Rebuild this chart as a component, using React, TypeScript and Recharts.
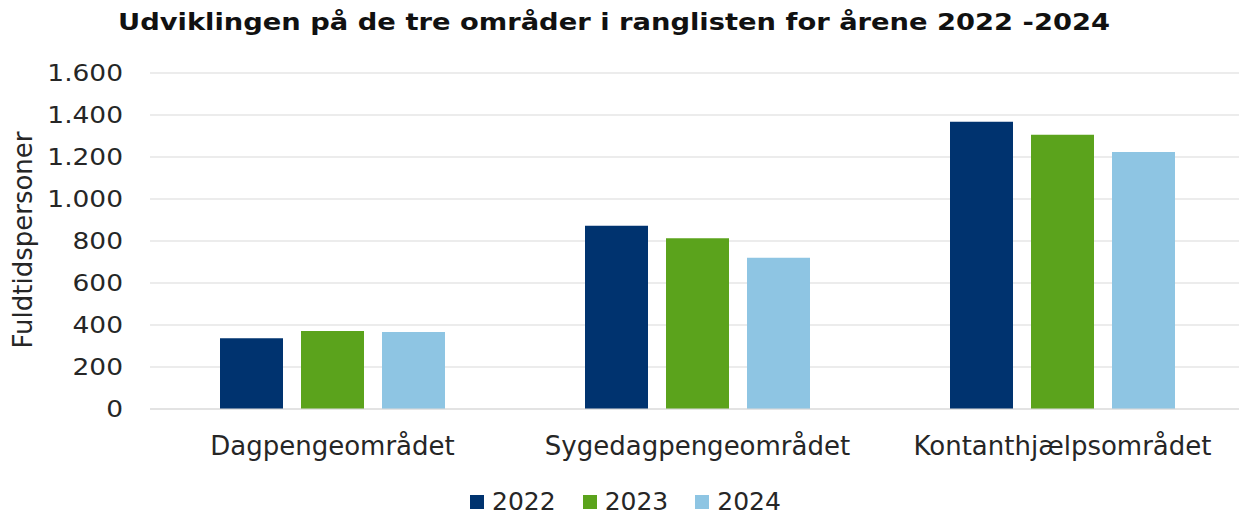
import React from 'react';
import { BarChart, Bar, XAxis, YAxis, CartesianGrid, Legend } from 'recharts';

const categories = ['Dagpengeområdet', 'Sygedagpengeområdet', 'Kontanthjælpsområdet'];
const years = ['2022', '2023', '2024'];
const values2022 = [337, 873, 1368];
const values2023 = [371, 813, 1306];
const values2024 = [367, 720, 1224];
const yTicks = [0, 200, 400, 600, 800, 1000, 1200, 1400, 1600];
const colors = ['#00336f', '#5ba31c', '#8ec5e3'];

const title = 'Udviklingen på de tre områder i ranglisten for årene 2022 -2024';
const yLabel = 'Fuldtidspersoner';

const seriesValues = [values2022, values2023, values2024];
const data = categories.map((name, i) => {
  const row: Record<string, string | number> = { name };
  years.forEach((y, j) => {
    row[y] = seriesValues[j][i];
  });
  return row;
});

const FONT = '"DejaVu Sans", Verdana, sans-serif';
const TEXT = '#262626';

const fmt = (v: number) => v.toString().replace(/\B(?=(\d{3})+(?!\d))/g, '.');

const YTick = (props: any) => {
  const { y, payload } = props;
  return (
    <text
      transform={`translate(123,${y}) scale(1.15,1)`}
      textAnchor="end"
      dy="0.36em"
      fontSize={23}
      fontFamily={FONT}
      fill={TEXT}
    >
      {fmt(payload.value)}
    </text>
  );
};

const XTick = (props: any) => {
  const { x, payload } = props;
  return (
    <text x={x} y={455} textAnchor="middle" fontSize={26} fontFamily={FONT} fill={TEXT}>
      {payload.value}
    </text>
  );
};

const LegendContent = (props: any) => {
  const { payload } = props;
  return (
    <div style={{ display: 'flex', alignItems: 'center', height: 25 }}>
      {(payload || []).map((p: any) => (
        <div key={p.value} style={{ display: 'flex', alignItems: 'center', marginRight: 27 }}>
          <div style={{ width: 14, height: 14, background: p.color, marginRight: 8 }} />
          <span style={{ fontFamily: FONT, fontSize: 25, lineHeight: '25px', color: TEXT }}>{p.value}</span>
        </div>
      ))}
    </div>
  );
};

export default function App() {
  return (
    <div
      style={{
        position: 'absolute',
        top: 0,
        left: 0,
        width: 1239,
        height: 517,
        overflow: 'hidden',
        background: '#ffffff',
      }}
    >
      <BarChart
        width={1245}
        height={517}
        data={data}
        margin={{ top: 73, right: 0, bottom: 78, left: 0 }}
        barSize={63}
        barGap={18}
      >
        <CartesianGrid vertical={false} stroke="#d9d9d9" strokeWidth={1.2} />
        <XAxis
          dataKey="name"
          height={30}
          tickLine={false}
          axisLine={{ stroke: '#d9d9d9', strokeWidth: 1.2 }}
          tick={XTick}
          interval={0}
        />
        <YAxis
          width={150}
          domain={[0, 1600]}
          ticks={yTicks}
          interval={0}
          axisLine={false}
          tickLine={false}
          tick={YTick}
        />
        <Legend
          layout="horizontal"
          verticalAlign="middle"
          align="center"
          content={LegendContent}
          wrapperStyle={{ top: 489, left: 470, width: 400, height: 25 }}
        />
        {years.map((y, i) => (
          <Bar key={y} dataKey={y} name={y} fill={colors[i]} isAnimationActive={false} />
        ))}
      </BarChart>
      <svg
        width={1239}
        height={517}
        style={{ position: 'absolute', top: 0, left: 0, pointerEvents: 'none' }}
      >
        <text
          x={118}
          y={30}
          textLength={992}
          lengthAdjust="spacingAndGlyphs"
          fontSize={23}
          fontWeight="bold"
          fontFamily={FONT}
          fill="#111111"
        >
          {title}
        </text>
        <text
          transform="translate(32,240) rotate(-90)"
          textAnchor="middle"
          fontSize={26}
          fontFamily={FONT}
          fill={TEXT}
        >
          {yLabel}
        </text>
      </svg>
    </div>
  );
}
